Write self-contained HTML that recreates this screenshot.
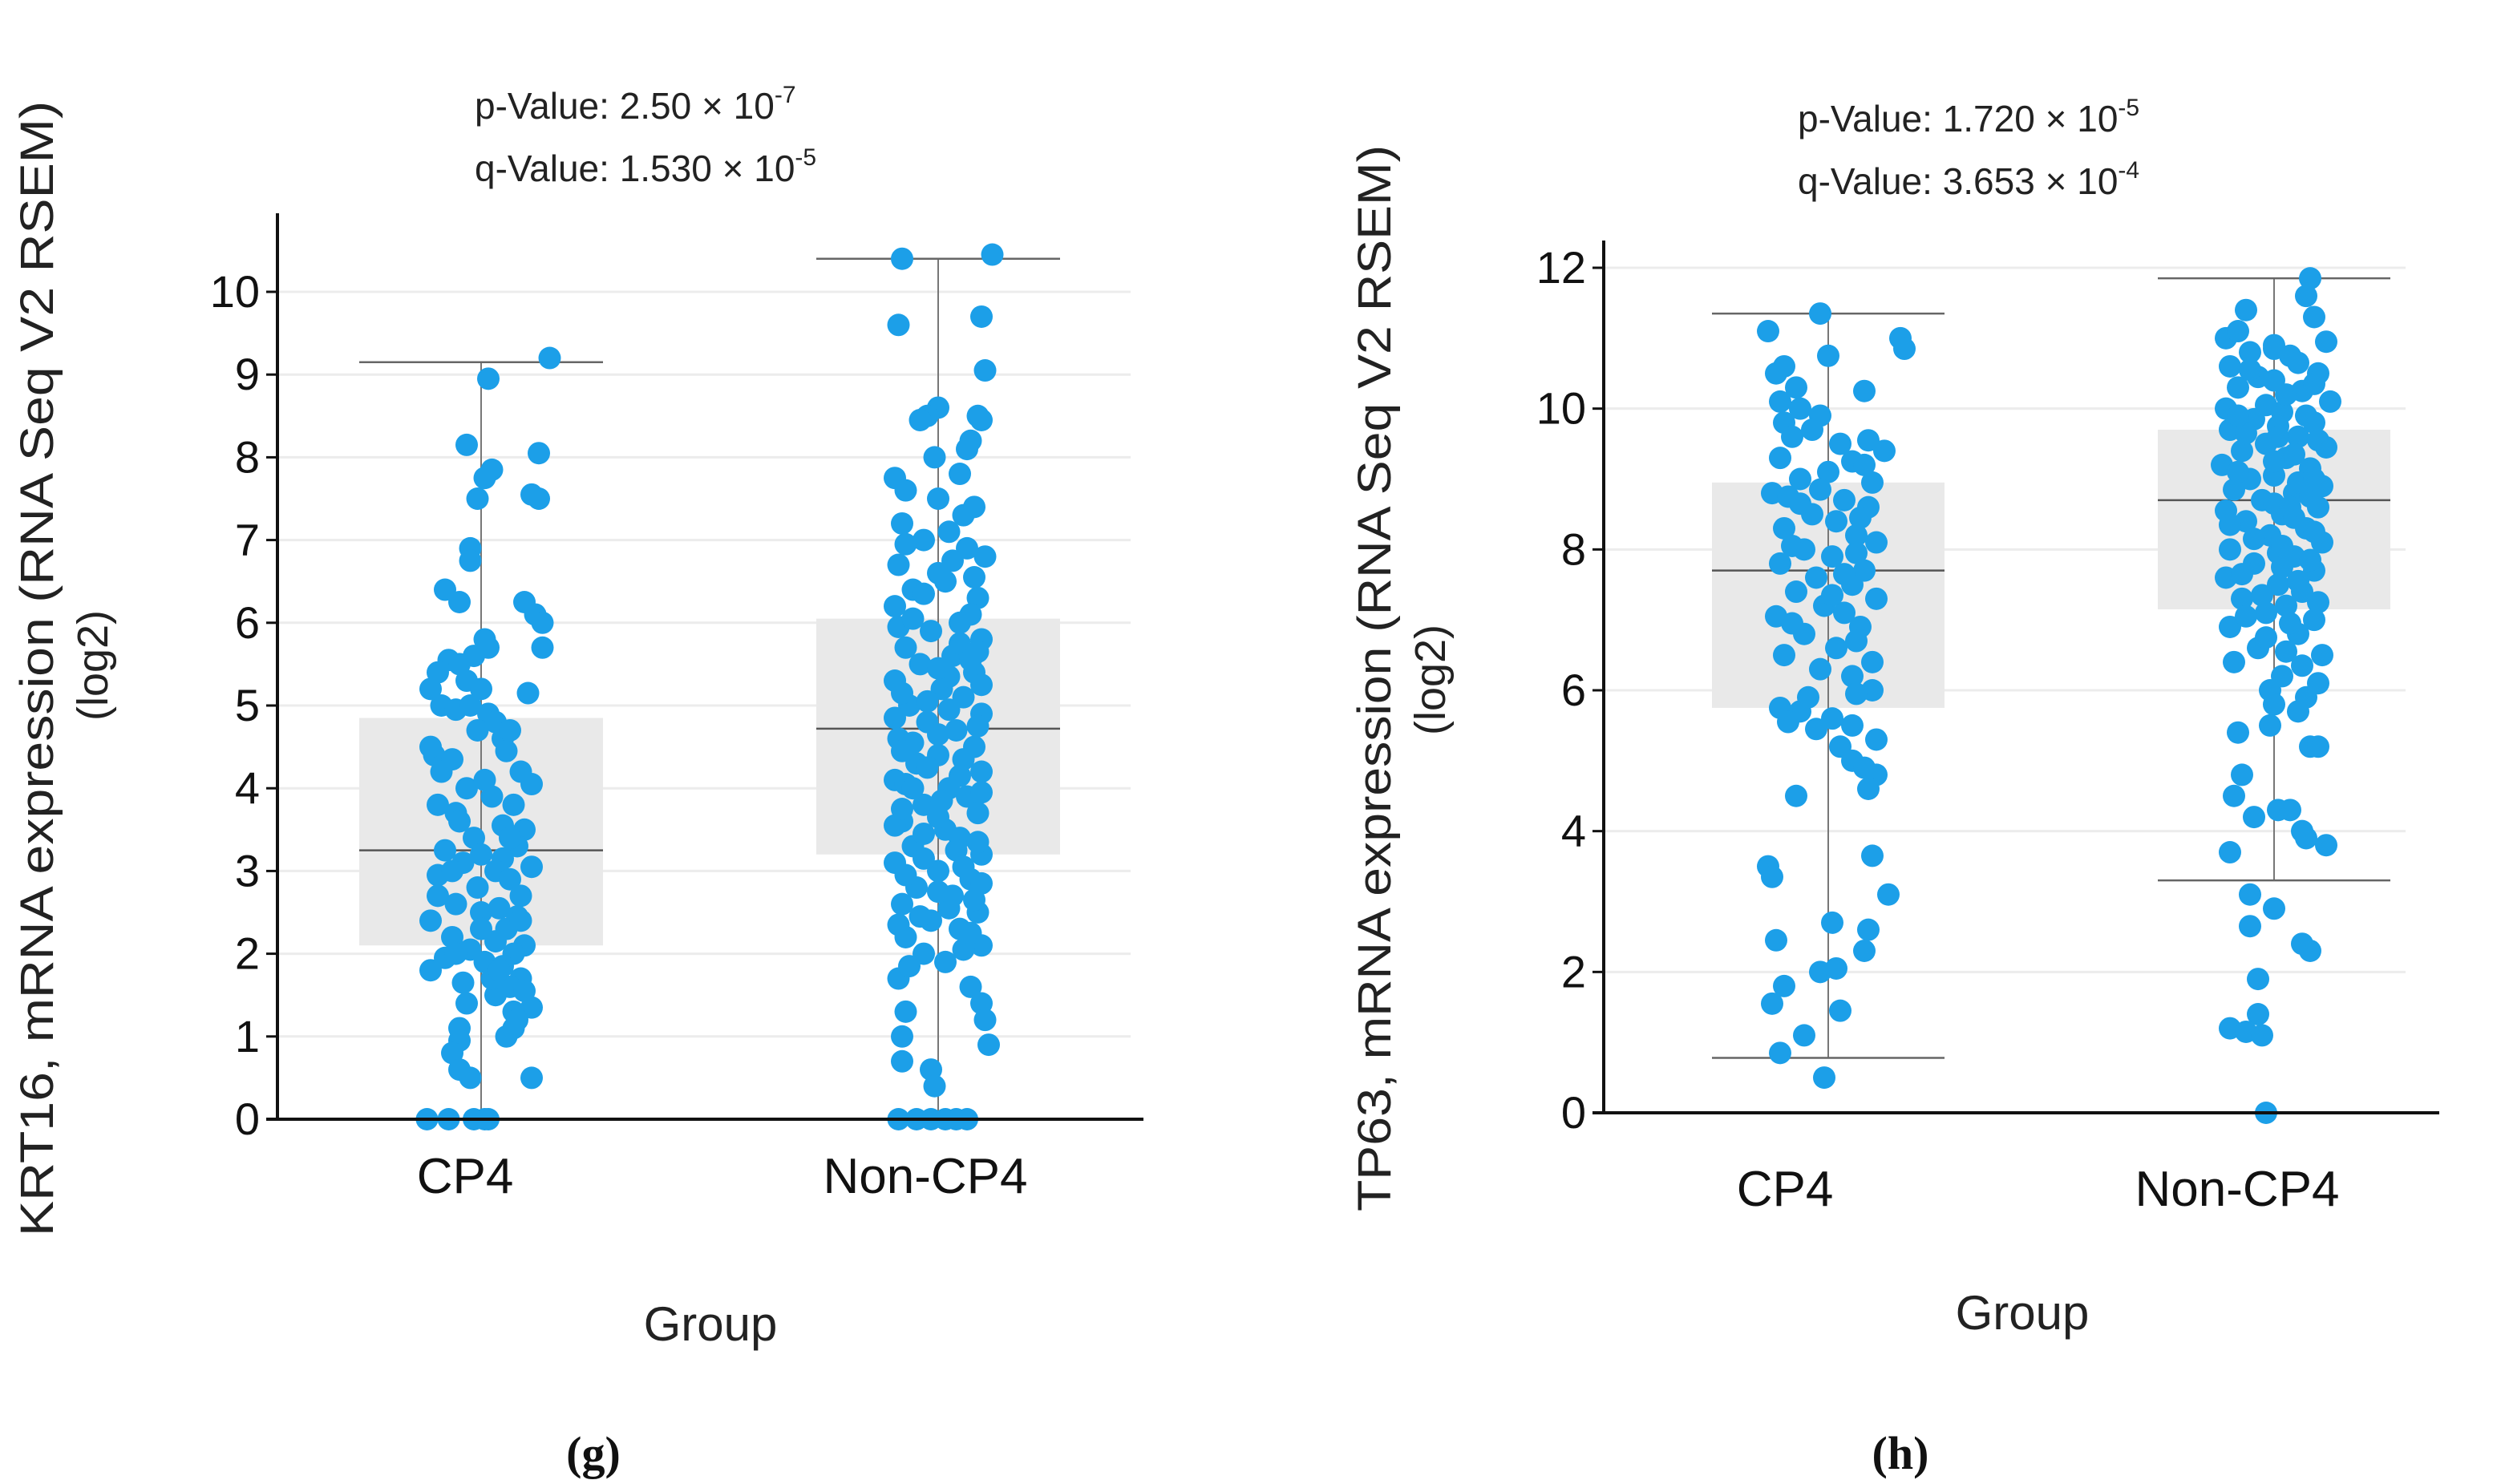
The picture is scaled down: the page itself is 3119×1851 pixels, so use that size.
<!DOCTYPE html>
<html><head><meta charset="utf-8"><style>
html,body{margin:0;padding:0;background:#fff;}
svg{display:block;font-family:"Liberation Sans",sans-serif;}
</style></head><body>
<svg id="fig" width="3119" height="1851" viewBox="0 0 3119 1851" xmlns="http://www.w3.org/2000/svg"></svg>
<script>
// ---------- Panel g: KRT16 ----------
const gCategories = ["CP4", "Non-CP4"];
const gTicks = [0,1,2,3,4,5,6,7,8,9,10];
const gBoxCP4 = [0, 2.1, 3.25, 4.85, 9.15];
const gBoxNon = [0, 3.2, 4.72, 6.05, 10.4];
const gCP4Y = [9.2,8.95,8.15,8.05,7.85,7.75,7.55,7.5,7.5,6.9,6.75,6.4,6.25,6.25,6.1,6.0,5.7,5.15,5.8,5.7,5.6,5.55,5.5,5.4,5.3,5.2,5.0,4.95,5.0,4.9,4.7,4.6,4.45,4.4,4.35,4.2,4.2,4.0,4.05,3.9,3.8,3.8,3.7,3.55,3.5,3.4,3.3,3.25,3.2,3.15,3.1,3.05,3.0,2.95,2.9,2.8,2.7,2.6,2.55,2.5,2.45,2.4,2.3,2.2,2.15,2.1,2.05,2.0,1.95,1.9,1.85,1.8,1.7,1.65,1.6,1.55,1.5,1.4,1.35,1.3,1.2,1.1,1.0,0.95,0.8,0.6,0.5,0.5,0,0,0,0,0,2.3,2.7,3.4,4.5,4.8,2.0,1.7,3.6,4.1,1.1,1.8,2.4,3.0,5.2,4.7];
const gCP4J = [0.95,0.1,-0.2,0.8,0.15,0.05,0.7,0.8,-0.05,-0.15,-0.15,-0.5,-0.3,0.6,0.75,0.85,0.85,0.65,0.05,0.1,-0.1,-0.45,-0.3,-0.6,-0.2,0.0,-0.55,-0.35,-0.15,0.1,-0.05,0.3,0.35,-0.65,-0.4,-0.55,0.55,-0.2,0.7,0.15,-0.6,0.45,-0.35,0.3,0.6,-0.1,0.5,-0.5,0.0,0.3,-0.25,0.7,0.2,-0.6,0.4,-0.05,0.55,-0.35,0.25,0.0,0.5,-0.7,0.35,-0.4,0.2,0.6,-0.15,0.45,-0.5,0.05,0.3,-0.7,0.55,-0.25,0.4,0.6,0.2,-0.2,0.7,0.45,0.5,-0.3,0.35,-0.3,-0.4,-0.3,-0.15,0.7,-0.75,-0.45,-0.1,0.05,0.1,0.0,-0.6,0.4,-0.7,0.2,-0.35,0.15,-0.3,0.05,0.45,0.25,0.55,-0.4,-0.7,0.4];
const gNonY = [10.4,10.45,9.6,9.7,9.05,8.6,8.5,8.45,8.5,8.45,8.2,8.0,8.1,7.75,7.8,7.6,7.5,7.2,7.3,7.0,7.1,6.8,6.9,6.7,6.5,6.4,6.3,6.2,6.0,5.9,5.8,5.7,5.6,5.5,5.4,5.3,5.2,5.1,5.0,4.9,4.8,4.7,4.6,4.5,4.4,4.3,4.2,4.1,4.0,3.9,3.8,3.7,3.6,3.5,3.4,3.3,3.2,3.1,3.0,2.9,2.8,2.7,2.6,2.5,2.4,2.3,2.2,2.1,2.0,1.9,1.7,1.6,1.4,1.3,1.2,1.0,0.9,0.7,0.6,0.4,0,0,0,0,0,0,6.6,6.1,5.95,5.65,5.35,5.05,4.75,4.55,4.35,4.05,3.85,3.55,3.25,2.95,2.65,2.35,2.05,6.35,5.75,5.15,4.65,4.15,3.65,3.15,2.55,7.4,6.95,6.55,5.25,4.85,4.25,3.75,3.35,2.75,2.25,1.85,5.55,4.95,4.45,3.95,3.45,6.75,6.05,5.45,4.0,3.05,2.85,2.45];
const gNonJ = [-0.5,0.75,-0.55,0.6,0.65,0.0,-0.15,-0.25,0.55,0.6,0.45,-0.05,0.4,-0.6,0.3,-0.45,0.0,-0.5,0.35,-0.2,0.15,0.65,0.4,-0.55,0.1,-0.35,0.55,-0.6,0.3,-0.1,0.6,-0.45,0.2,-0.25,0.5,-0.6,0.05,0.35,-0.4,0.6,-0.15,0.25,-0.55,0.5,0.0,-0.3,0.6,-0.6,0.15,0.4,-0.2,0.55,-0.5,0.1,0.3,-0.35,0.6,-0.6,0.0,0.45,-0.3,0.2,-0.5,0.55,-0.1,0.3,-0.45,0.6,-0.2,0.1,-0.55,0.45,0.6,-0.45,0.65,-0.5,0.7,-0.5,-0.1,-0.05,-0.55,-0.3,-0.1,0.1,0.25,0.4,0.0,0.45,-0.55,0.55,0.15,-0.15,0.55,-0.35,0.35,-0.45,0.05,-0.6,0.25,-0.45,0.5,-0.55,0.35,-0.2,0.3,-0.5,0.0,0.3,0.0,-0.2,0.15,0.5,-0.45,0.5,0.6,-0.6,-0.15,-0.5,0.55,0.0,0.45,-0.4,0.45,0.15,-0.5,0.6,-0.2,0.2,-0.35,0.0,-0.35,0.35,0.6,-0.25];

// ---------- Panel h: TP63 ----------
const hCategories = ["CP4", "Non-CP4"];
const hTicks = [0,2,4,6,8,10,12];
const hBoxCP4 = [0.78, 5.75, 7.7, 8.95, 11.35];
const hBoxNon = [3.3, 7.15, 8.7, 9.7, 11.85];
const hCP4Y = [11.35,11.1,11.0,10.85,10.75,10.6,10.5,10.3,10.25,10.0,9.9,9.8,9.6,9.5,9.4,9.3,9.25,9.1,9.0,8.95,8.8,8.75,8.7,8.6,8.5,8.4,8.3,8.2,8.1,8.0,7.9,7.8,7.7,7.6,7.5,7.4,7.3,7.2,7.1,7.05,6.9,6.8,6.6,6.5,6.4,6.3,6.2,6.0,5.9,5.75,5.7,5.6,5.5,5.45,5.3,5.2,5.0,4.9,4.8,4.6,4.5,3.65,3.5,3.35,3.1,2.7,2.6,2.45,2.3,2.05,2.0,1.8,1.55,1.45,1.1,0.85,0.5,9.7,9.2,8.85,8.45,8.05,7.65,7.35,6.95,6.7,5.95,5.55,9.55,10.1,8.65,7.95];
const hCP4J = [-0.1,-0.75,0.9,0.95,0.0,-0.55,-0.65,-0.4,0.45,-0.35,-0.1,-0.55,-0.45,0.15,0.7,-0.6,0.3,0.0,-0.35,0.55,-0.7,-0.5,0.2,0.5,-0.2,0.1,-0.55,0.35,0.6,-0.3,0.05,-0.6,0.45,-0.15,0.3,-0.4,0.6,-0.05,0.2,-0.65,0.4,-0.3,0.1,-0.55,0.55,-0.1,0.3,0.55,-0.25,-0.6,-0.35,0.05,0.3,-0.15,0.6,0.15,0.3,0.45,0.6,0.5,-0.4,0.55,-0.75,-0.7,0.75,0.05,0.5,-0.65,0.45,0.1,-0.1,-0.55,-0.7,0.15,-0.3,-0.6,-0.05,-0.2,0.45,-0.1,0.4,-0.45,0.2,0.05,-0.45,0.35,0.35,-0.5,0.5,-0.6,-0.35,0.35];
const hNonY = [11.85,11.6,11.4,11.3,11.0,10.95,10.8,10.75,10.6,10.5,10.4,10.3,10.25,10.1,10.0,9.95,9.85,9.8,9.7,9.6,9.5,9.45,9.4,9.3,9.2,9.15,9.05,9.0,8.9,8.85,8.8,8.7,8.6,8.55,8.5,8.4,8.3,8.2,8.1,8.0,7.9,7.8,7.7,7.6,7.5,7.4,7.3,7.2,7.1,7.0,6.9,6.8,6.6,6.5,6.4,6.2,6.1,6.0,5.9,5.8,5.7,5.5,5.4,5.2,5.2,4.8,4.5,4.3,4.2,4.3,4.0,3.9,3.8,3.7,3.1,2.9,2.65,2.4,2.3,1.9,1.4,1.2,1.15,1.1,0,10.9,10.65,10.45,10.2,10.05,9.9,9.75,9.65,9.55,9.35,9.25,9.1,8.95,8.75,8.65,8.45,8.35,8.25,8.15,7.95,7.85,7.65,7.55,7.35,7.25,7.05,6.95,6.75,6.55,6.35,10.55,10.35,9.9,9.6,9.0,8.6,8.05,7.75,11.1,10.85];
const hNonJ = [0.45,0.4,-0.35,0.5,-0.6,0.65,-0.3,0.2,-0.55,0.55,0.0,-0.45,0.35,0.7,-0.6,0.1,-0.25,0.5,-0.55,0.3,-0.1,0.65,-0.4,0.15,-0.65,0.45,0.0,-0.3,0.6,-0.5,0.25,-0.15,0.55,-0.6,0.1,-0.35,0.4,-0.05,0.6,-0.55,0.25,-0.25,0.5,-0.6,0.05,0.35,-0.4,0.15,-0.1,0.5,-0.55,0.3,-0.2,0.6,-0.5,0.1,0.55,-0.05,0.4,0.0,0.3,-0.05,-0.45,0.45,0.55,-0.4,-0.5,0.05,-0.25,0.2,0.35,0.4,0.65,-0.55,-0.3,0.0,-0.3,0.35,0.45,-0.2,-0.2,-0.55,-0.35,-0.15,-0.1,0.0,0.3,-0.2,0.15,-0.1,0.4,0.05,-0.35,0.55,0.25,0.0,-0.45,0.3,0.45,0.0,0.25,-0.55,0.5,-0.25,0.05,0.45,-0.4,0.3,-0.15,0.55,-0.35,0.2,-0.1,0.15,0.35,-0.3,0.5,-0.45,0.05,0.5,0.2,0.1,0.1,-0.45];

const NS = "http://www.w3.org/2000/svg";
const svg = document.getElementById("fig");
function mk(tag, attrs, parent) {
  const e = document.createElementNS(NS, tag);
  for (const k in attrs) e.setAttribute(k, attrs[k]);
  (parent || svg).appendChild(e);
  return e;
}

function drawPanel(cfg) {
  const g = mk("g", {});
  
  
  const yScale = v => cfg.y0 - (v - cfg.vmin) / (cfg.vmax - cfg.vmin) * (cfg.y0 - cfg.y1);
  cfg.ticks.forEach(t => {
    const l = mk("line", {x1: cfg.axX, x2: cfg.gridEnd, y1: yScale(t), y2: yScale(t), stroke: "#ececec", "stroke-width": 3}, g);
    
    
  });
  const boxes = [cfg.boxA, cfg.boxB];
  boxes.forEach((b, i) => {
    const cx = cfg.centers[i], hw = cfg.boxHalf;
    const r = mk("rect", {x: cx - hw, y: yScale(b[3]), width: 2 * hw, height: yScale(b[1]) - yScale(b[3]), fill: "#e9e9e9"}, g);
    
    
    const wl = mk("line", {x1: cx, x2: cx, y1: yScale(b[4]), y2: yScale(b[0]), stroke: "#777", "stroke-width": 2}, g);
    
    
    [b[4], b[0], b[2]].forEach((v, k) => {
      const c = mk("line", {x1: cx - hw, x2: cx + hw, y1: yScale(v), y2: yScale(v), stroke: k === 2 ? "#555" : "#666", "stroke-width": 2.5}, g);
      
      
    });
  });
  const sets = [[cfg.ptsA, cfg.jitA], [cfg.ptsB, cfg.jitB]];
  sets.forEach((s, i) => {
    s[0].forEach((v, k) => {
      const j = (typeof s[1][k] === "number") ? s[1][k] : 0;
      const c = mk("circle", {cx: cfg.centers[i] + j * cfg.jitter, cy: yScale(v), r: 14, fill: "#1c9fe8"}, g);
      
      
    });
  });
  const ya = mk("line", {x1: cfg.axX, x2: cfg.axX, y1: cfg.axTop, y2: cfg.y0 + 2, stroke: "#111", "stroke-width": 4}, g);
  
  
  const xa = mk("line", {x1: cfg.axX - 14, x2: cfg.axEnd, y1: cfg.y0, y2: cfg.y0, stroke: "#111", "stroke-width": 4}, g);
  
  
  cfg.ticks.forEach(t => {
    const tk = mk("line", {x1: cfg.axX - 14, x2: cfg.axX, y1: yScale(t), y2: yScale(t), stroke: "#111", "stroke-width": 3}, g);
    
    
    const tl = mk("text", {x: cfg.axX - 22, y: yScale(t) + 19, "text-anchor": "end", "font-size": 56, fill: "#111"}, g);
    tl.textContent = String(t);
    
    
  });
  cfg.cats.forEach((c, i) => {
    const t = mk("text", {x: cfg.labelX[i], y: cfg.catY, "text-anchor": "middle", "font-size": 62, fill: "#111"}, g);
    t.textContent = c;
    
    
  });
  const gx = mk("text", {x: cfg.groupX, y: cfg.groupY, "text-anchor": "middle", "font-size": 60, fill: "#222"}, g);
  gx.textContent = "Group";
  
  
  const yt = mk("text", {transform: `translate(${cfg.ytX},${cfg.ytY}) rotate(-90)`, "text-anchor": "middle", "font-size": 58, fill: "#222", textLength: cfg.ytLen, lengthAdjust: "spacingAndGlyphs"}, g);
  yt.textContent = cfg.ytitle;
  
  
  const yt2 = mk("text", {transform: `translate(${cfg.ytX + 68},${cfg.ytY2}) rotate(-90)`, "text-anchor": "middle", "font-size": 54, fill: "#222"}, g);
  yt2.textContent = "(log2)";
  
  
  [[cfg.pText, cfg.pExp, cfg.pY, 'p-value-label'], [cfg.qText, cfg.qExp, cfg.pY + 78, 'q-value-label']].forEach(a => {
    const t = mk("text", {x: cfg.pX, y: a[2], "font-size": 46, fill: "#222"}, g);
    t.textContent = a[0];
    const sp = mk("tspan", {"font-size": 30, dy: -20}, t);
    sp.textContent = a[1];
    
    
  });
  const pl = mk("text", {x: cfg.panelX, y: 1832, "text-anchor": "middle", "font-size": 58, "font-weight": "bold", "font-family": "Liberation Serif, serif", fill: "#111"}, g);
  pl.textContent = cfg.panel;
  
  
}

drawPanel({name: "krt16-chart", cats: gCategories, ticks: gTicks, vmin: 0, vmax: 10, y0: 1396, y1: 364,
  axX: 346, axTop: 266, axEnd: 1426, gridEnd: 1410, centers: [600, 1170], boxHalf: 152, jitter: 90,
  boxA: gBoxCP4, boxB: gBoxNon, ptsA: gCP4Y, jitA: gCP4J, ptsB: gNonY, jitB: gNonJ,
  labelX: [580, 1154], catY: 1488, groupX: 886, groupY: 1672,
  ytitle: "KRT16, mRNA expression (RNA Seq V2 RSEM)", ytX: 66, ytY: 834, ytLen: 1416, ytY2: 830,
  pX: 592, pY: 148, pText: "p-Value: 2.50 × 10", pExp: "-7", qText: "q-Value: 1.530 × 10", qExp: "-5",
  panel: "(g)", panelX: 740});
drawPanel({name: "tp63-chart", cats: hCategories, ticks: hTicks, vmin: 0, vmax: 12, y0: 1388, y1: 334,
  axX: 2000, axTop: 300, axEnd: 3042, gridEnd: 3000, centers: [2280, 2836], boxHalf: 145, jitter: 100,
  boxA: hBoxCP4, boxB: hBoxNon, ptsA: hCP4Y, jitA: hCP4J, ptsB: hNonY, jitB: hNonJ,
  labelX: [2226, 2790], catY: 1504, groupX: 2522, groupY: 1658,
  ytitle: "TP63, mRNA expression (RNA Seq V2 RSEM)", ytX: 1734, ytY: 846, ytLen: 1330, ytY2: 848,
  pX: 2242, pY: 164, pText: "p-Value: 1.720 × 10", pExp: "-5", qText: "q-Value: 3.653 × 10", qExp: "-4",
  panel: "(h)", panelX: 2370});
</script>
</body></html>
